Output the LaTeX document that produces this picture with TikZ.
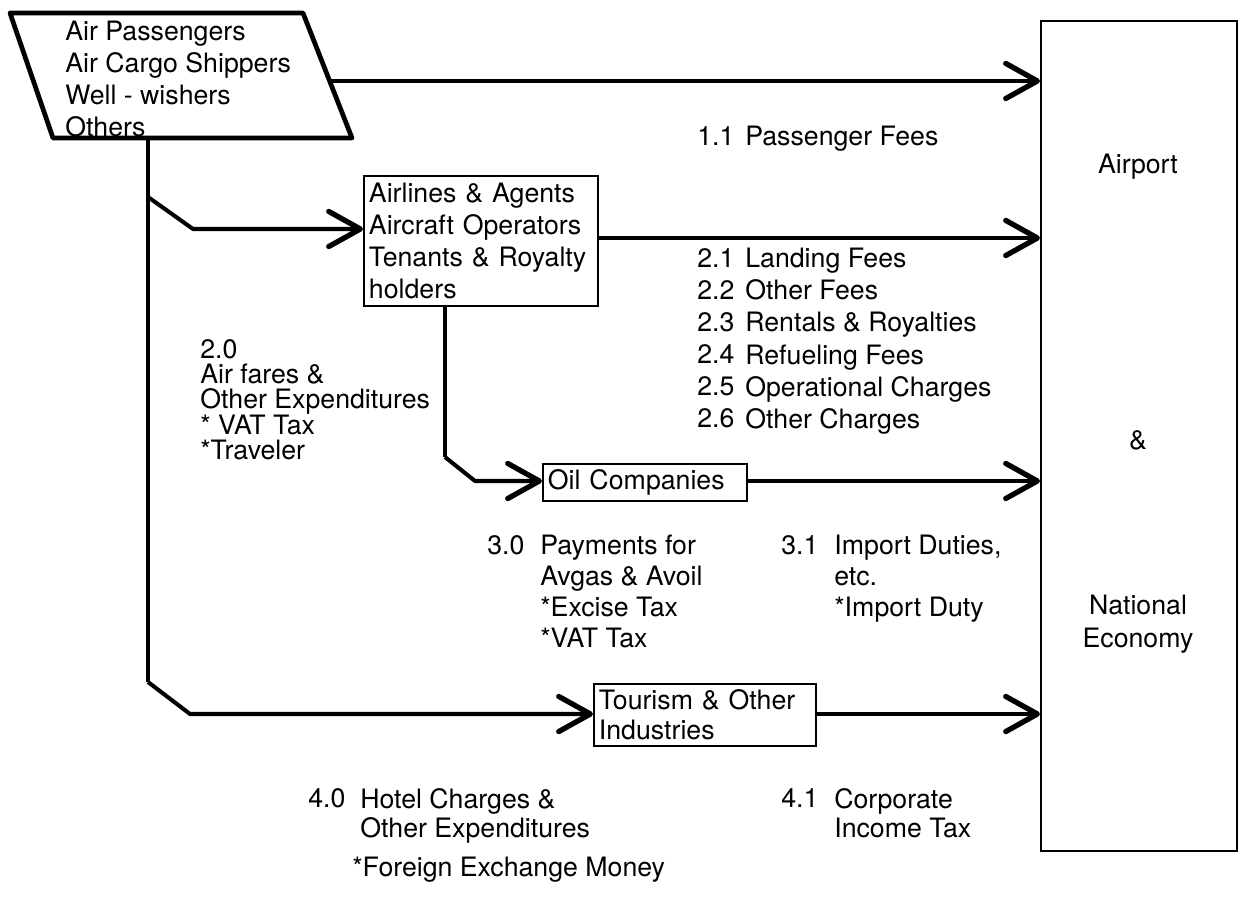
\documentclass[tikz,border=0pt]{standalone}
\usepackage{fontspec}
\setmainfont{TeX Gyre Heros}
\usetikzlibrary{arrows.meta}

\tikzset{
  flow/.style={line width=2.3pt, line join=round,
    -{Straight Barb[length=18pt,width=20pt,line width=3pt,round]}},
  trunk/.style={line width=2.3pt, line join=round},
  box/.style={draw, line width=1.1pt, inner xsep=0.1cm, inner ysep=0pt,
    align=left, anchor=north west},
  txt/.style={inner sep=0pt, anchor=north west, align=left},
}

\begin{document}
\begin{tikzpicture}[x=0.02cm, y=-0.02cm, font=\fontsize{15.2}{18}\selectfont]
  \useasboundingbox (0,0) rectangle (1242,902);

  % sources
  \draw[line width=2.7pt, line join=round]
    (10,13) -- (303,13) -- (352,138) -- (53,138) -- cycle;
  \node[txt, font=\fontsize{15.2}{18.1}\selectfont] (users) at (65,21)
    {Air Passengers\\Air Cargo Shippers\\Well - wishers\\Others};
  \coordinate (usersE) at (329,81);
  \coordinate (usersS) at (148,138);

  % airport & national economy
  \node[draw, line width=1.1pt, minimum width=3.92cm, minimum height=16.6cm,
        anchor=north west, inner sep=0pt] (sink) at (1040,20) {};
  \node (airport) at (1138,167) {Airport};
  \node (amp) at (1138,440) {\&};
  \node[align=center, font=\fontsize{15.2}{18.7}\selectfont] (nat) at (1138,624)
    {National\\Economy};

  % intermediate boxes
  \node[box, minimum width=4.68cm, minimum height=2.6cm, text width=4.48cm,
        font=\fontsize{15.2}{18.1}\selectfont] (airlines) at (363,175)
    {Airlines \& Agents\\Aircraft Operators\\Tenants \& Royalty\\holders};
  \node[box, minimum width=4.08cm, minimum height=0.74cm, text width=3.88cm]
    (oil) at (542,463) {Oil Companies};
  \node[box, minimum width=4.44cm, minimum height=1.24cm, text width=4.24cm,
        font=\fontsize{15.2}{17}\selectfont] (tourism) at (593,683)
    {Tourism \& Other\\Industries};

  % trunk and branches
  \coordinate (k1) at (148,197);
  \coordinate (k2) at (148,682);
  \coordinate (k3) at (445,457);
  \draw[trunk] (usersS) -- (k2);
  \draw[flow] (k1) -- (193,229) -- (airlines.west |- 0,229);
  \draw[flow] (k2) -- (190,714) -- (tourism.west |- 0,714);
  \draw[trunk] (airlines.south -| k3) -- (k3);
  \draw[flow] (k3) -- (475,481) -- (oil.west |- 0,481);

  % payments to airport & economy
  \draw[flow] (usersE) -- (sink.west |- usersE);
  \draw[flow] (airlines.east |- 0,238) -- (sink.west |- 0,238);
  \draw[flow] (oil.east |- 0,481) -- (sink.west |- 0,481);
  \draw[flow] (tourism.east |- 0,714) -- (sink.west |- 0,714);

  % labels
  \node[txt] (n11) at (697,126) {1.1};
  \node[txt] (l11) at (745,126) {Passenger Fees};
  \node[txt, font=\fontsize{15.2}{18.25}\selectfont] (n21) at (697,248)
    {2.1\\2.2\\2.3\\2.4\\2.5\\2.6};
  \node[txt, font=\fontsize{15.2}{18.25}\selectfont] (l21) at (745,248)
    {Landing Fees\\Other Fees\\Rentals \& Royalties\\Refueling Fees\\
     Operational Charges\\Other Charges};
  \node[txt, font=\fontsize{15.2}{14.4}\selectfont] (l20) at (200,339)
    {2.0\\Air fares \&\\Other Expenditures\\* VAT Tax\\*Traveler};
  \node[txt] (n30) at (487,535) {3.0};
  \node[txt, font=\fontsize{15.2}{17.6}\selectfont] (l30) at (540,535)
    {Payments for\\Avgas \& Avoil\\*Excise Tax\\*VAT Tax};
  \node[txt] (n31) at (781,535) {3.1};
  \node[txt, font=\fontsize{15.2}{17.6}\selectfont] (l31) at (834,535)
    {Import Duties,\\etc.\\*Import Duty};
  \node[txt] (n40) at (308,788) {4.0};
  \node[txt, font=\fontsize{15.2}{16.4}\selectfont] (l40) at (360,788)
    {Hotel Charges \&\\Other Expenditures};
  \node[txt] (n41) at (781,788) {4.1};
  \node[txt, font=\fontsize{15.2}{16.4}\selectfont] (l41) at (834,788)
    {Corporate\\Income Tax};
  \node[txt] (fx) at (352,857) {*Foreign Exchange Money};
\end{tikzpicture}
\end{document}
